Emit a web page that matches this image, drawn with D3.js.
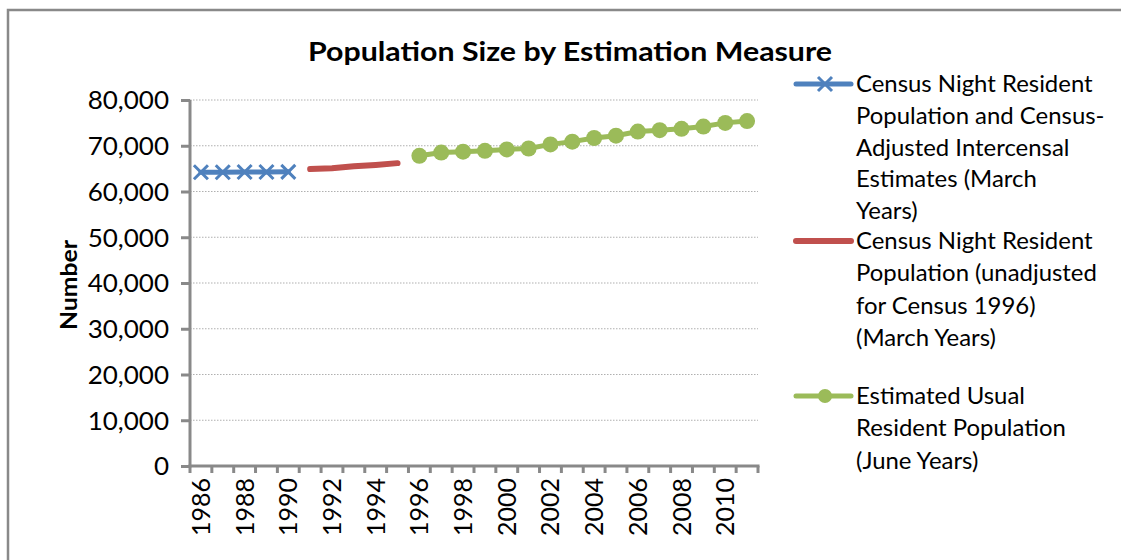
<!DOCTYPE html>
<html><head><meta charset="utf-8">
<script src="https://cdn.jsdelivr.net/npm/d3@7"></script>
<style>body{margin:0;background:#fff;} svg{display:block;}</style>
</head><body>
<svg id="c" width="1121" height="560"></svg>
<script>
const years = d3.range(1986, 2012).map(String);
const seriesNames = [
  ["Census Night  Resident","Population and Census-","Adjusted Intercensal","Estimates  (March","Years)"],
  ["Census Night  Resident","Population (unadjusted","for Census 1996)","(March Years)"],
  ["Estimated  Usual","Resident Population","(June Years)"]
];
const censusAdjYears = ["1986","1987","1988","1989","1990"];
const censusAdj = [64200, 64200, 64250, 64250, 64300];
const censusUnadjYears = ["1991","1992","1993","1994","1995"];
const censusUnadj = [64900, 65100, 65500, 65800, 66200];
const eurpYears = ["1996","1997","1998","1999","2000","2001","2002","2003","2004","2005","2006","2007","2008","2009","2010","2011"];
const eurp = [67800, 68500, 68700, 68900, 69200, 69400, 70300, 70900, 71700, 72200, 73100, 73400, 73700, 74200, 75000, 75400];
const yTicks = [0,10000,20000,30000,40000,50000,60000,70000,80000];
const xLabelYears = years.filter((d,i)=>i%2===0);
const colors = ["#4F81BD","#C0504D","#9BBB59"];

const svg = d3.select("#c");
const font = "Lato, 'Open Sans', sans-serif";
svg.append("rect").attr("x",8).attr("y",10).attr("width",1130).attr("height",570)
  .attr("fill","#fff").attr("stroke","#898989").attr("stroke-width",2.5);

const L=190, R=758, T=100, B=466;
const x = d3.scaleBand().domain(years).range([L,R]).padding(0);
const y = d3.scaleLinear().domain([0,80000]).range([B,T]);
const cx = d => x(d)+x.bandwidth()/2;

// gridlines
svg.append("g").selectAll("line").data(yTicks.filter(d=>d>0)).join("line")
  .attr("x1",L).attr("x2",R).attr("y1",d=>y(d)).attr("y2",d=>y(d))
  .attr("stroke","#b0b0b0").attr("stroke-width",1.2).attr("stroke-dasharray","1.5,1.5");

// y axis
const ya = svg.append("g").attr("transform",`translate(${L},0)`)
  .call(d3.axisLeft(y).tickValues(yTicks).tickSize(9).tickPadding(12).tickFormat(d3.format(",")));
ya.select(".domain").remove();
ya.selectAll(".tick line").attr("stroke","#898989").attr("stroke-width",3);
ya.selectAll(".tick text").attr("font-family",font).attr("font-size",25).attr("fill","#000").attr("dy","0.35em")
  .each(function(){
    const w = this.getComputedTextLength();
    d3.select(this).attr("textLength",w*1.04).attr("lengthAdjust","spacingAndGlyphs");
  });
svg.append("line").attr("x1",L).attr("x2",L).attr("y1",T).attr("y2",B+1.5).attr("stroke","#898989").attr("stroke-width",3);

// x axis
const boundaries = years.map(d=>x(d)).concat([R]);
svg.append("g").selectAll("line").data(boundaries).join("line")
  .attr("x1",d=>d).attr("x2",d=>d).attr("y1",B).attr("y2",B+7)
  .attr("stroke","#898989").attr("stroke-width",3);
svg.append("line").attr("x1",L-1.5).attr("x2",R+1.5).attr("y1",B).attr("y2",B).attr("stroke","#898989").attr("stroke-width",3);
svg.append("g").selectAll("text").data(xLabelYears).join("text")
  .attr("transform",d=>`translate(${cx(d)},${B+12}) rotate(-90)`)
  .attr("text-anchor","end").attr("dy","0.36em")
  .attr("font-family",font).attr("font-size",25).attr("fill","#000")
  .text(d=>d);

// series
const line = d3.line().x(d=>cx(d[0])).y(d=>y(d[1]));
const s1 = d3.zip(censusAdjYears, censusAdj);
const s2 = d3.zip(censusUnadjYears, censusUnadj);
const s3 = d3.zip(eurpYears, eurp);

svg.append("path").datum(s1).attr("d",line).attr("fill","none").attr("stroke",colors[0]).attr("stroke-width",5).attr("stroke-linecap","round");
const xMark = (g, px, py, s) => {
  g.append("path").attr("d",`M${px-s},${py-s}L${px+s},${py+s}M${px-s},${py+s}L${px+s},${py-s}`)
    .attr("stroke",colors[0]).attr("stroke-width",3).attr("fill","none");
};
const mg = svg.append("g");
s1.forEach(d=>xMark(mg, cx(d[0]), y(d[1]), 7));

svg.append("path").datum(s2).attr("d",line).attr("fill","none").attr("stroke",colors[1]).attr("stroke-width",6).attr("stroke-linecap","round");

svg.append("path").datum(s3).attr("d",line).attr("fill","none").attr("stroke",colors[2]).attr("stroke-width",5).attr("stroke-linecap","round");
svg.append("g").selectAll("circle").data(s3).join("circle")
  .attr("cx",d=>cx(d[0])).attr("cy",d=>y(d[1])).attr("r",8).attr("fill",colors[2]);

// title
svg.append("text").attr("x",570).attr("y",61).attr("text-anchor","middle")
  .attr("font-family",font).attr("font-weight","bold").attr("font-size",26).attr("fill","#000")
  .attr("textLength",524).attr("lengthAdjust","spacingAndGlyphs")
  .text("Population Size by Estimation Measure");

// y label
svg.append("text").attr("transform","translate(77,285) rotate(-90)").attr("text-anchor","middle")
  .attr("font-family",font).attr("font-weight","bold").attr("font-size",22).attr("fill","#000")
  .attr("textLength",90).attr("lengthAdjust","spacingAndGlyphs")
  .text("Number");

// legend
const legY = [84, 241, 396];
const legSpacing = [31.8, 32.3, 32.3];
const lg = svg.append("g");
seriesNames.forEach((lines,i)=>{
  const ly = legY[i];
  lg.append("line").attr("x1",796).attr("x2",851).attr("y1",ly).attr("y2",ly)
    .attr("stroke",colors[i]).attr("stroke-width",i===1?6:5).attr("stroke-linecap","round");
  if(i===0) xMark(lg, 825, ly, 7);
  if(i===2) lg.append("circle").attr("cx",825).attr("cy",ly).attr("r",7).attr("fill",colors[2]);
  const t = lg.append("text").attr("font-family",font).attr("font-size",23).attr("fill","#000");
  lines.forEach((s,j)=>{
    t.append("tspan").attr("x",856).attr("y",ly + j*legSpacing[i]).attr("dy","0.35em")
      .attr("textLength", null).text(s);
  });
  t.attr("transform",`translate(856,0) scale(1.04,1) translate(-856,0)`);
});
</script>
</body></html>
